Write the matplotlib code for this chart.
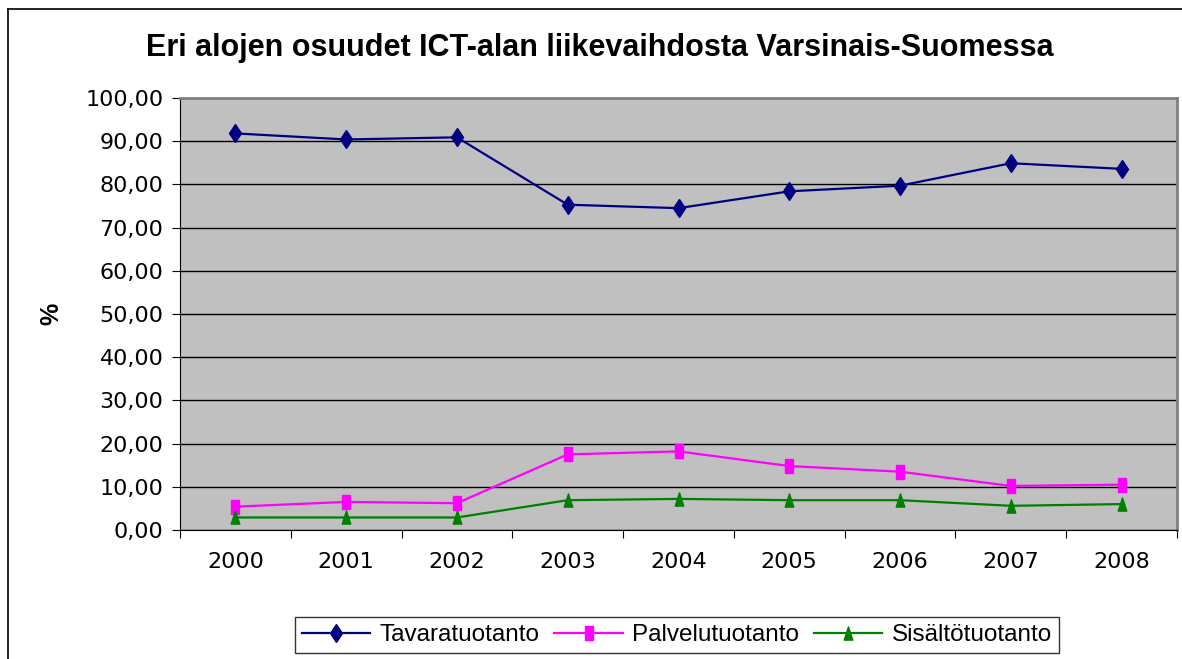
import matplotlib
matplotlib.use("Agg")
import matplotlib.pyplot as plt
from matplotlib.lines import Line2D
from matplotlib.path import Path
from matplotlib.ticker import FuncFormatter, FixedLocator

# Data
years = ["2000", "2001", "2002", "2003", "2004", "2005", "2006", "2007", "2008"]
tavaratuotanto = [91.8, 90.4, 90.9, 75.3, 74.5, 78.4, 79.7, 84.9, 83.6]
palvelutuotanto = [5.4, 6.5, 6.2, 17.5, 18.2, 14.8, 13.5, 10.2, 10.5]
sisaltotuotanto = [2.9, 2.9, 2.9, 6.9, 7.2, 6.9, 6.9, 5.6, 6.0]

series_names = ["Tavaratuotanto", "Palvelutuotanto", "Sisältötuotanto"]
title = "Eri alojen osuudet ICT-alan liikevaihdosta Varsinais-Suomessa"

# markers look squeezed sideways in the original, so use narrow shapes
tall_square = Path([(-0.6, -1), (0.6, -1), (0.6, 1), (-0.6, 1), (-0.6, -1)],
                   [Path.MOVETO, Path.LINETO, Path.LINETO, Path.LINETO, Path.CLOSEPOLY])
tall_triangle = Path([(-0.65, -1), (0.65, -1), (0, 1), (-0.65, -1)],
                     [Path.MOVETO, Path.LINETO, Path.LINETO, Path.CLOSEPOLY])

W, H = 1182, 659
fig = plt.figure(figsize=(W / 100, H / 100), dpi=100)
ax = fig.add_axes([180 / W, 1 - 530 / H, (1177 - 180) / W, (530 - 98) / H])
ax.set_facecolor("#C0C0C0")

x = list(range(len(years)))
ax.plot(x, tavaratuotanto, color="#000080", lw=1.6, marker="d", ms=9.5,
        label=series_names[0], zorder=3)
ax.plot(x, palvelutuotanto, color="#FF00FF", lw=1.6, marker=tall_square, ms=9.5,
        label=series_names[1], zorder=3)
ax.plot(x, sisaltotuotanto, color="#008000", lw=1.6, marker=tall_triangle, ms=9.5,
        label=series_names[2], zorder=3)

ax.set_xlim(-0.5, len(years) - 0.5)
ax.set_ylim(0, 100)
ax.set_yticks(range(0, 101, 10))
ax.yaxis.set_major_formatter(FuncFormatter(lambda v, p: f"{v:.2f}".replace(".", ",")))
ax.grid(axis="y", color="black", lw=1, zorder=1)

# category boundaries get the tick marks, labels sit in the middle
ax.xaxis.set_major_locator(FixedLocator([i - 0.5 for i in range(len(years) + 1)]))
ax.xaxis.set_minor_locator(FixedLocator(x))
ax.set_xticklabels([])
ax.set_xticklabels(years, minor=True)
ax.tick_params(axis="x", which="major", direction="out", length=6, color="black")
ax.tick_params(axis="x", which="minor", length=0, pad=16)
ax.tick_params(axis="y", direction="out", length=6, pad=6)
for lbl in ax.get_xticklabels(minor=True) + ax.get_yticklabels():
    lbl.set_fontsize(16)
    lbl.set_fontfamily("DejaVu Sans")

ax.spines["top"].set_color("#808080")
ax.spines["right"].set_color("#808080")
ax.spines["top"].set_linewidth(2)
ax.spines["right"].set_linewidth(2)
ax.spines["left"].set_color("black")
ax.spines["bottom"].set_color("black")

ax.set_ylabel("%", fontsize=18, fontweight="bold", family="Liberation Sans", labelpad=16)

fig.text(600 / W, 1 - 48 / H, title, ha="center", va="center",
         fontsize=22, fontweight="bold", family="Liberation Sans")

leg = ax.legend(loc="center", bbox_to_anchor=(677 / W, 1 - 635 / H),
                bbox_transform=fig.transFigure, ncol=3, frameon=True, fancybox=False,
                prop={"family": "Liberation Sans", "size": 17.5}, handlelength=2.8,
                columnspacing=0.6, handletextpad=0.4, borderpad=0.3)
leg.get_frame().set_edgecolor("black")
leg.get_frame().set_linewidth(1)

# chart area border (only left and top visible in the original crop)
fig.add_artist(Line2D([8 / W, 8 / W], [0, 1 - 9 / H], color="black", lw=1.2))
fig.add_artist(Line2D([8 / W, 1], [1 - 9 / H, 1 - 9 / H], color="black", lw=1.2))

fig.savefig("out.png", dpi=100)
